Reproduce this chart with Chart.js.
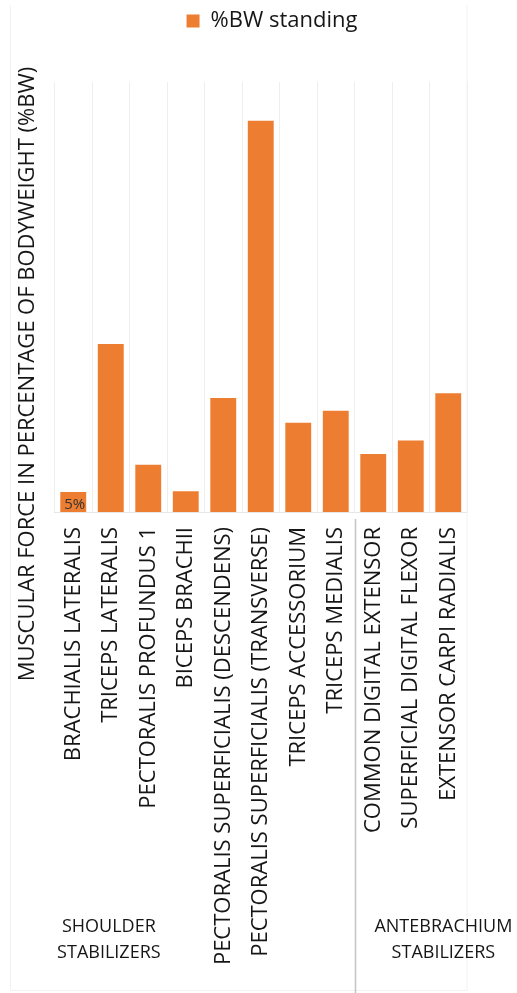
<!DOCTYPE html>
<html>
<head>
<meta charset="utf-8">
<script src="https://cdn.jsdelivr.net/npm/chart.js@4/dist/chart.umd.min.js"></script>
<style>
  html, body { margin: 0; padding: 0; background: #ffffff; }
  #wrap { width: 517px; height: 993px; position: relative; }
</style>
</head>
<body>
<div id="wrap"><canvas id="chart" width="517" height="993"></canvas></div>
<script>
// Muscles, in the order they appear along the axis
const muscles = [
  'BRACHIALIS LATERALIS',
  'TRICEPS LATERALIS',
  'PECTORALIS PROFUNDUS 1',
  'BICEPS BRACHII',
  'PECTORALIS SUPERFICIALIS (DESCENDENS)',
  'PECTORALIS SUPERFICIALIS (TRANSVERSE)',
  'TRICEPS ACCESSORIUM',
  'TRICEPS MEDIALIS',
  'COMMON DIGITAL EXTENSOR',
  'SUPERFICIAL DIGITAL FLEXOR',
  'EXTENSOR CARPI RADIALIS'
];

// Muscular force while standing, % of bodyweight
const bwStanding = [5, 42, 11.8, 5.2, 28.5, 97.8, 22.3, 25.3, 14.5, 17.9, 29.7];

const seriesName = '%BW standing';
const yAxisTitle = 'MUSCULAR FORCE IN PERCENTAGE OF BODYWEIGHT (%BW)';

// Functional groups along the category axis
const groupNames = [['SHOULDER', 'STABILIZERS'], ['ANTEBRACHIUM', 'STABILIZERS']];
const groupSizes = [8, 3];

// Bars whose value is printed on them
const labelledBars = [0];

const FONT = '"Open Sans", "DejaVu Sans", sans-serif';
const INK = '#161616';

// Leaves a gap between the legend and the plot
const legendGap = {
  id: 'legendGap',
  beforeLayout(chart, args, opts) {
    const lg = chart.legend;
    if (!lg || lg._gapPatched) return;
    const fit = lg.fit;
    lg.fit = function () {
      fit.call(this);
      this.height += opts.gap;
    };
    lg._gapPatched = true;
  }
};

// Axis title, group captions, group divider and value labels
const decorations = {
  id: 'decorations',
  afterDraw(chart, args, opts) {
    const { ctx, chartArea } = chart;
    const x = chart.scales.x;
    ctx.save();

    // light outer frame of the category table
    ctx.strokeStyle = '#f2f2f2';
    ctx.lineWidth = 1;
    ctx.beginPath();
    ctx.moveTo(10.5, 5);
    ctx.lineTo(10.5, 990.5);
    ctx.lineTo(chartArea.right, 990.5);
    ctx.moveTo(chartArea.right, 5);
    ctx.lineTo(chartArea.right, 990.5);
    ctx.stroke();

    // vertical axis title
    ctx.fillStyle = INK;
    ctx.font = '22px ' + FONT;
    ctx.textAlign = 'center';
    ctx.textBaseline = 'middle';
    ctx.translate(opts.titleX, opts.titleY);
    ctx.rotate(-Math.PI / 2);
    ctx.fillText(yAxisTitle, 0, 0);
    ctx.setTransform(1, 0, 0, 1, 0, 0);

    // divider between groups
    let start = 0;
    for (let g = 0; g < groupSizes.length - 1; g++) {
      start += groupSizes[g];
      const px = Math.round(x.getPixelForValue(start - 0.5)) + 0.5;
      ctx.strokeStyle = '#c4c4c4';
      ctx.lineWidth = 1.5;
      ctx.beginPath();
      ctx.moveTo(px, chartArea.bottom + 7);
      ctx.lineTo(px, chart.height);
      ctx.stroke();
    }

    // group captions
    ctx.font = '18px ' + FONT;
    ctx.fillStyle = INK;
    groupNames.forEach((lines, g) => {
      const cx = x.getPixelForValue(opts.groupAnchors[g]);
      lines.forEach((line, i) => {
        ctx.fillText(line, cx, chart.height - opts.groupBottom + i * 26);
      });
    });

    // value labels inside the bars
    const meta = chart.getDatasetMeta(0);
    ctx.font = '15px ' + FONT;
    ctx.fillStyle = '#333333';
    labelledBars.forEach(i => {
      const bar = meta.data[i];
      ctx.fillText(bwStanding[i] + '%', bar.x + 1.5, bar.base - 7);
    });

    ctx.restore();
  }
};

function build() {
  new Chart(document.getElementById('chart'), {
    type: 'bar',
    data: {
      labels: muscles,
      datasets: [{
        label: seriesName,
        data: bwStanding,
        backgroundColor: '#ED7D31',
        borderWidth: 0,
        barPercentage: 0.69,
        categoryPercentage: 1.0
      }]
    },
    options: {
      responsive: false,
      animation: false,
      devicePixelRatio: 1,
      layout: { padding: { left: 27, right: 0, top: 0, bottom: 0 } },
      plugins: {
        legend: {
          position: 'top',
          labels: {
            boxWidth: 13,
            boxHeight: 13,
            padding: 10,
            color: INK,
            font: { family: FONT, size: 22 }
          }
        },
        legendGap: { gap: 40 },
        decorations: { titleX: 28, titleY: 374, groupAnchors: [0.95, 9.87], groupBottom: 66 },
        tooltip: { enabled: false }
      },
      scales: {
        x: {
          grid: { display: true, offset: true, color: '#eeeeee', drawTicks: false },
          border: { display: true, color: '#e6e6e6' },
          ticks: {
            autoSkip: false,
            minRotation: 90,
            maxRotation: 90,
            padding: 15,
            color: INK,
            font: { family: FONT, size: 22 }
          },
          afterFit(scale) { scale.height = 481; }
        },
        y: {
          position: 'left',
          min: 0,
          max: 107.5,
          grid: { display: false },
          border: { display: false },
          ticks: { display: false },
          afterFit(scale) { scale.width = 27.5; }
        },
        yRight: {
          position: 'right',
          min: 0,
          max: 1,
          grid: { display: false },
          border: { display: false },
          ticks: { display: false },
          afterFit(scale) { scale.width = 50; }
        }
      }
    },
    plugins: [legendGap, decorations]
  });
}

if (document.fonts && document.fonts.load) {
  document.fonts.load('22px "Open Sans"').then(build, build);
} else {
  build();
}
</script>
</body>
</html>
